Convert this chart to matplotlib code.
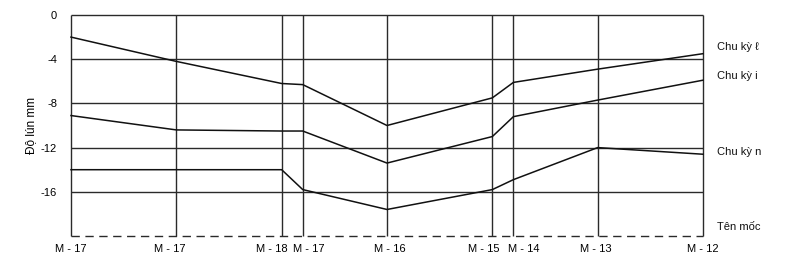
import matplotlib.pyplot as plt
from matplotlib.transforms import offset_copy

# ==========================================
# Data: stations along the route & settlement per cycle (mm)
# ==========================================
station_names = ['M - 17', 'M - 17', 'M - 18', 'M - 17', 'M - 16',
                 'M - 15', 'M - 14', 'M - 13', 'M - 12']
station_dist = [0, 1, 2, 2.2, 3, 4, 4.2, 5, 6]

cycle_l = [-2.0, -4.2, -6.2, -6.3, -10.0, -7.5, -6.1, -4.9, -3.5]
cycle_i = [-9.1, -10.4, -10.5, -10.5, -13.4, -11.0, -9.2, -7.7, -5.9]
cycle_n = [-14.0, -14.0, -14.0, -15.8, -17.6, -15.8, -14.9, -12.0, -12.6]

y_ticks = [0, -4, -8, -12, -16]
y_tick_labels = ['0', '-4', '-8', '-12', '-16']

series_labels = ['Chu kỳ ℓ', 'Chu kỳ i', 'Chu kỳ n', 'Tên mốc']
label_y = [-2.9, -5.5, -12.4, -19.2]

# ==========================================
# Figure
# ==========================================
plt.rcParams['font.family'] = ['Liberation Sans', 'DejaVu Sans']
W, H = 796, 269
fig = plt.figure(figsize=(W / 100, H / 100), dpi=100)
ax = fig.add_axes([71 / W, 1 - 236 / H, (703 - 71) / W, (236 - 15) / H])
ax.set_xlim(0, 6)
ax.set_ylim(-20, 0)
for s in ax.spines.values():
    s.set_visible(False)

grid_col = '#2a2a2a'
ax.hlines(y_ticks, station_dist[0], station_dist[-1], color=grid_col, lw=1.0, clip_on=False)
ax.vlines(station_dist, -20, 0, color=grid_col, lw=1.0, clip_on=False)
ax.hlines(-20, station_dist[0], station_dist[-1], color=grid_col, lw=1.0,
          linestyles=(0, (6, 4)), clip_on=False)

for vals in (cycle_l, cycle_i, cycle_n):
    ax.plot(station_dist, vals, color='#111111', lw=1.1, clip_on=False)

ax.set_yticks(y_ticks)
ax.set_yticklabels(y_tick_labels, fontsize=8)
ax.set_xticks([])
ax.tick_params(length=0)
ax.tick_params(axis='y', pad=10)
ax.set_ylabel('Độ lún mm', fontsize=8.5, labelpad=3)

# station names under each line; the close pairs are pushed apart
name_align = ['center', 'center', 'right', 'left', 'center',
              'right', 'left', 'center', 'center']
name_shift = [0, -5, 4, -7, 2, 5, -4, -1, 0]   # points
xform = ax.get_xaxis_transform()
for name, xd, ha, dx in zip(station_names, station_dist, name_align, name_shift):
    ax.text(xd, 0, name, fontsize=8, ha=ha, va='center',
            transform=offset_copy(xform, fig=fig, x=dx, y=-9.5, units='points'))

for txt, yy in zip(series_labels, label_y):
    ax.text(1.022, yy, txt, transform=ax.get_yaxis_transform(), fontsize=8,
            va='center', ha='left', color='#111111')

fig.savefig('out.png', dpi=100)
